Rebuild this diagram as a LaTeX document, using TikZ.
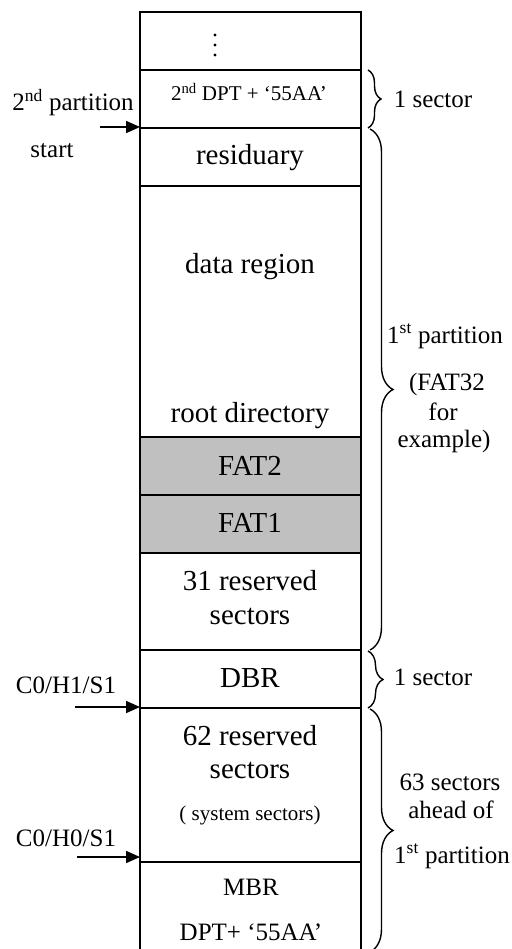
\documentclass[tikz,border=0pt]{standalone}
\usepackage{fontspec}
\setmainfont{Liberation Serif}
\usetikzlibrary{decorations.pathreplacing,arrows.meta}
\definecolor{fatgray}{HTML}{C0C0C0}
\begin{document}
\begin{tikzpicture}[x=1pt,y=-1pt,
  big/.style={font=\fontsize{29}{32}\selectfont, anchor=base, inner sep=0pt},
  lab/.style={font=\fontsize{25}{28}\selectfont, anchor=base, inner sep=0pt},
  small/.style={font=\fontsize{21}{24}\selectfont, anchor=base, inner sep=0pt},
  rule/.style={line width=1.5pt},
  ptr/.style={line width=1.6pt, -{Triangle[length=14pt,width=12pt]}},
  brc/.style={line width=1.4pt, decorate, decoration={brace, amplitude=#1}},
]
\useasboundingbox (0,0) rectangle (511,949);

% gray FAT sections
\fill[fatgray] (140,437) rectangle (361,553);

% column outline
\draw[rule] (140,949) -- (140,12) -- (361,12) -- (361,949);
\foreach \yy in {70,128,186,437,495,553,650,708,862}
  \draw[rule] (140,\yy) -- (361,\yy);

% vertical dots
\foreach \yy in {35,45,55}
  \fill (215,\yy) circle (1.7);

% texts inside the column
\node[small] (dpt2) at (249,101) {2\textsuperscript{nd} DPT + ‘55AA’};
\node[big] (resid) at (250,165) {residuary};
\node[big] (data) at (250,273) {data region};
\node[big] (root) at (250,422) {root directory};
\node[big] (fat2) at (250,475) {FAT2};
\node[big] (fat1) at (250,532) {FAT1};
\node[big] (r31a) at (250,590) {31 reserved};
\node[big] (r31b) at (250,624) {sectors};
\node[big] (dbr) at (250,687) {DBR};
\node[big] (r62a) at (250,745) {62 reserved};
\node[big] (r62b) at (250,778) {sectors};
\node[small] (sys) at (250,820) {( system sectors)};
\node[lab] (mbr) at (251,895) {MBR};
\node[lab] (mbrdpt) at (251,940) {DPT+ ‘55AA’};

% left labels and arrows
\node[lab] (p2a) at (73,111) {2\textsuperscript{nd} partition};
\node[lab] (p2b) at (52,158) {start};
\coordinate (p2from) at (100,127);
\coordinate (p2to) at (140,127);
\draw[ptr] (p2from) -- (p2to);

\node[lab] (c011) at (66,693) {C0/H1/S1};
\coordinate (c011from) at (75,707);
\coordinate (c011to) at (140,707);
\draw[ptr] (c011from) -- (c011to);

\node[lab] (c001) at (66,846) {C0/H0/S1};
\coordinate (c001from) at (77,857);
\coordinate (c001to) at (140,857);
\draw[ptr] (c001from) -- (c001to);

% braces
\coordinate (b1t) at (368,70);  \coordinate (b1b) at (368,128);
\draw[brc=13pt] (b1t) -- (b1b);
\coordinate (b2t) at (370,129); \coordinate (b2b) at (370,650);
\draw[brc=23pt] (b2t) -- (b2b);
\coordinate (b3t) at (368,651); \coordinate (b3b) at (368,708);
\draw[brc=15pt] (b3t) -- (b3b);
\coordinate (b4t) at (370,709); \coordinate (b4b) at (370,952);
\draw[brc=23pt] (b4t) -- (b4b);

% right labels
\node[lab] (s1) at (433,108) {1 sector};
\node[lab] (p1a) at (445,343) {1\textsuperscript{st} partition};
\node[lab] (p1b) at (447,390) {(FAT32};
\node[lab] (p1c) at (443,420) {for};
\node[lab] (p1d) at (444,447) {example)};
\node[lab] (s2) at (433,685) {1 sector};
\node[lab] (a1) at (450,790) {63 sectors};
\node[lab] (a2) at (451,818) {ahead of};
\node[lab] (a3) at (452,863) {1\textsuperscript{st} partition};
\end{tikzpicture}
\end{document}
